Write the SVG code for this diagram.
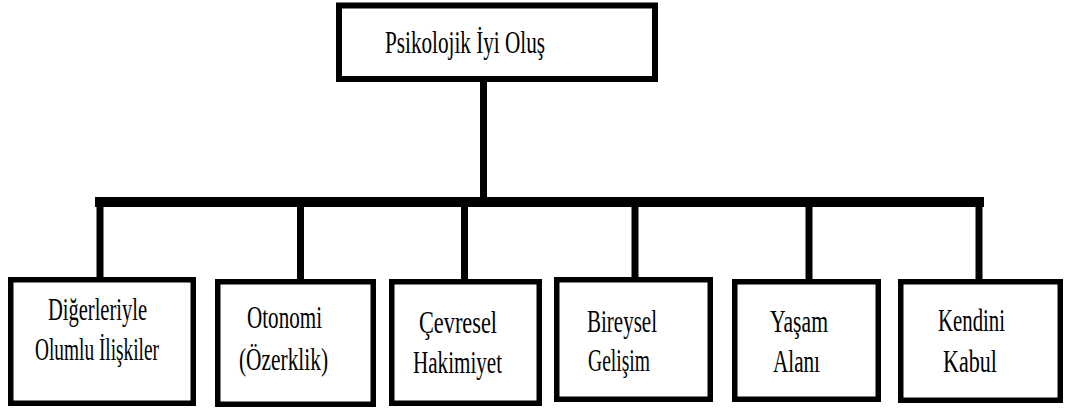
<svg xmlns="http://www.w3.org/2000/svg" width="1068" height="408" viewBox="0 0 1068 408">
<style>
.box{fill:#fff;stroke:#000;stroke-width:5.5}
.t{font-family:"Liberation Serif","Times New Roman",serif;font-size:32px;fill:#000}
.ln{stroke:#000;fill:none;stroke-linecap:square}
</style>
<rect width="1068" height="408" fill="#fff"/>
<g id="connectors">
<line class="ln" x1="483.5" y1="82" x2="483.5" y2="197" style="stroke-width:7"/>
<line class="ln" x1="100" y1="202" x2="979" y2="202" style="stroke-width:10"/>
<line class="ln" x1="100" y1="202" x2="100" y2="278" style="stroke-width:7"/>
<line class="ln" x1="300.5" y1="202" x2="300.5" y2="280" style="stroke-width:7"/>
<line class="ln" x1="464.5" y1="202" x2="464.5" y2="286" style="stroke-width:7"/>
<line class="ln" x1="635" y1="202" x2="635" y2="278" style="stroke-width:7"/>
<line class="ln" x1="809" y1="202" x2="809" y2="289" style="stroke-width:7"/>
<line class="ln" x1="979" y1="202" x2="979" y2="280" style="stroke-width:7"/>
</g>
<g id="root">
<rect class="box" x="339" y="5.5" width="316" height="73.5" style="stroke-width:6"/>
<text class="t" x="385" y="53" textLength="160" lengthAdjust="spacingAndGlyphs">Psikolojik İyi Oluş</text>
</g>
<g id="n1">
<rect class="box" x="10.75" y="279.75" width="182.5" height="123.5"/>
<text class="t" x="48" y="320" textLength="99" lengthAdjust="spacingAndGlyphs">Diğerleriyle</text>
<text class="t" x="35" y="360" textLength="124" lengthAdjust="spacingAndGlyphs">Olumlu İlişkiler</text>
</g>
<g id="n2">
<rect class="box" x="217.75" y="281.75" width="155.5" height="122.5"/>
<text class="t" x="247" y="328" textLength="75" lengthAdjust="spacingAndGlyphs">Otonomi</text>
<text class="t" x="239" y="370" textLength="89" lengthAdjust="spacingAndGlyphs">(Özerklik)</text>
</g>
<g id="n3">
<rect class="box" x="391.75" y="281.75" width="147.5" height="121.5"/>
<text class="t" x="419" y="333" textLength="78" lengthAdjust="spacingAndGlyphs">Çevresel</text>
<text class="t" x="413" y="373" textLength="89" lengthAdjust="spacingAndGlyphs">Hakimiyet</text>
</g>
<g id="n4">
<rect class="box" x="556.75" y="279.75" width="153.5" height="119.5"/>
<text class="t" x="587" y="332" textLength="70" lengthAdjust="spacingAndGlyphs">Bireysel</text>
<text class="t" x="588" y="371" textLength="62" lengthAdjust="spacingAndGlyphs">Gelişim</text>
</g>
<g id="n5">
<rect class="box" x="734.75" y="281.75" width="143.5" height="117.5"/>
<text class="t" x="770" y="332" textLength="58" lengthAdjust="spacingAndGlyphs">Yaşam</text>
<text class="t" x="773" y="372" textLength="47" lengthAdjust="spacingAndGlyphs">Alanı</text>
</g>
<g id="n6">
<rect class="box" x="900.75" y="281.75" width="159.5" height="118.5"/>
<text class="t" x="938" y="331" textLength="67" lengthAdjust="spacingAndGlyphs">Kendini</text>
<text class="t" x="943" y="372" textLength="54" lengthAdjust="spacingAndGlyphs">Kabul</text>
</g>
</svg>
